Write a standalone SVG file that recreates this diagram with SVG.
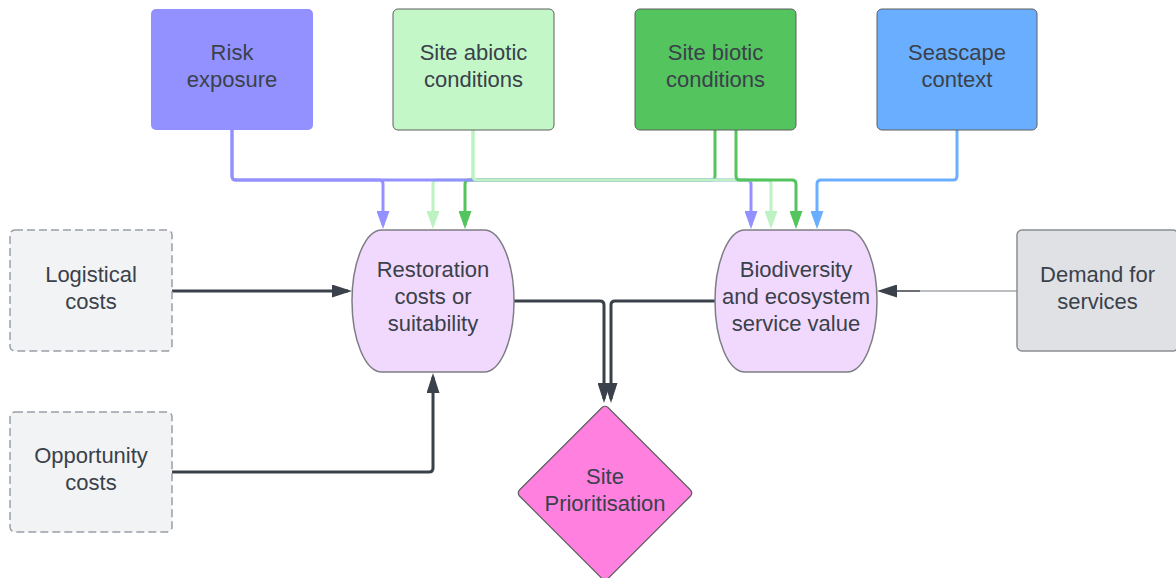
<svg xmlns="http://www.w3.org/2000/svg" width="1176" height="578" viewBox="0 0 1176 578">
<defs>
<style>
text{font-family:"Liberation Sans",Arial,sans-serif;font-size:22px;fill:#3a414a;text-anchor:middle}
.top{stroke:#5e5e5e;stroke-width:1}
.dash{fill:#f2f3f5;stroke:#9a9ea5;stroke-width:1.5;stroke-dasharray:8 4}
.mid{fill:#f1d9fd;stroke:#7d7d85;stroke-width:1.5}
.c{fill:none;stroke-width:3;stroke-linejoin:round}
.pu{stroke:#9391ff}.lg{stroke:#bdf2c2}.gr{stroke:#54c45e}.bl{stroke:#6aaeff}.dk{stroke:#3a414a}
</style>
<marker id="aPu" viewBox="0 0 18 13" refX="14" refY="6.5" markerWidth="18" markerHeight="13" markerUnits="userSpaceOnUse" orient="auto"><path d="M0,0L18,6.5L0,13z" fill="#9391ff"/></marker>
<marker id="aLg" viewBox="0 0 18 13" refX="14" refY="6.5" markerWidth="18" markerHeight="13" markerUnits="userSpaceOnUse" orient="auto"><path d="M0,0L18,6.5L0,13z" fill="#bdf2c2"/></marker>
<marker id="aGr" viewBox="0 0 18 13" refX="14" refY="6.5" markerWidth="18" markerHeight="13" markerUnits="userSpaceOnUse" orient="auto"><path d="M0,0L18,6.5L0,13z" fill="#54c45e"/></marker>
<marker id="aBl" viewBox="0 0 18 13" refX="14" refY="6.5" markerWidth="18" markerHeight="13" markerUnits="userSpaceOnUse" orient="auto"><path d="M0,0L18,6.5L0,13z" fill="#6aaeff"/></marker>
<marker id="aDk" viewBox="0 0 20 13" refX="16" refY="6.5" markerWidth="20" markerHeight="13" markerUnits="userSpaceOnUse" orient="auto"><path d="M0,0L20,6.5L0,13z" fill="#3a414a"/></marker>
</defs>
<rect width="1176" height="578" fill="#ffffff"/>
<g id="connectors">
<path class="c lg" d="M473,130V176Q473,180 469,180H437Q433,180 433,184V225" marker-end="url(#aLg)"/>
<path class="c gr" d="M715,130V176Q715,180 711,180H469Q465,180 465,184V225" marker-end="url(#aGr)"/>
<path class="c pu" d="M232,130V176Q232,180 236,180H379Q383,180 383,184V225" marker-end="url(#aPu)"/>
<path class="c pu" d="M232,130V176Q232,180 236,180H747Q751,180 751,184V225" marker-end="url(#aPu)"/>
<path class="c lg" d="M473,130V176Q473,180 477,180H767Q771,180 771,184V225" marker-end="url(#aLg)"/>
<path class="c gr" d="M736,130V176Q736,180 740,180H792Q796,180 796,184V225" marker-end="url(#aGr)"/>
<path class="c bl" d="M957,130V176Q957,180 953,180H821Q817,180 817,184V225" marker-end="url(#aBl)"/>
<path class="c dk" d="M172,291H348" marker-end="url(#aDk)"/>
<path class="c dk" d="M172,472H429Q433,472 433,468V377" marker-end="url(#aDk)"/>
<path class="c dk" d="M514,301H600Q604,301 604,305V399" marker-end="url(#aDk)"/>
<path class="c dk" d="M716,301H615Q611,301 611,305V399" marker-end="url(#aDk)"/>
<path d="M1017,291H920" fill="none" stroke="#7a7d83" stroke-width="1.2"/>
<path d="M920,291H881" fill="none" stroke="#3a414a" stroke-width="1.6" marker-end="url(#aDk)"/>
</g>
<g id="risk"><rect x="151" y="9" width="162" height="121" rx="5" fill="#9391ff"/><text x="232" y="60">Risk</text><text x="232" y="87">exposure</text></g>
<g id="abiotic"><rect class="top" x="393" y="9" width="161" height="121" rx="5" fill="#c3f7c8"/><text x="473.5" y="60">Site abiotic</text><text x="473.5" y="87">conditions</text></g>
<g id="biotic"><rect class="top" x="635" y="9" width="161" height="121" rx="5" fill="#54c45e"/><text x="715.5" y="60">Site biotic</text><text x="715.5" y="87">conditions</text></g>
<g id="seascape"><rect class="top" x="877" y="9" width="160" height="121" rx="5" fill="#6aaeff"/><text x="957" y="60">Seascape</text><text x="957" y="87">context</text></g>
<g id="logistical"><rect class="dash" x="10" y="230" width="162" height="121" rx="5"/><text x="91" y="282">Logistical</text><text x="91" y="309">costs</text></g>
<g id="opportunity"><rect class="dash" x="10" y="412" width="162" height="120" rx="5"/><text x="91" y="463">Opportunity</text><text x="91" y="490">costs</text></g>
<g id="demand"><rect x="1017" y="230" width="161" height="121" rx="5" fill="#dfe1e5" stroke="#8a8d93" stroke-width="1.5"/><text x="1097.5" y="282">Demand for</text><text x="1097.5" y="309">services</text></g>
<g id="restoration"><rect class="mid" x="352" y="230" width="162" height="142" rx="30" ry="71"/><text x="433" y="277">Restoration</text><text x="433" y="304">costs or</text><text x="433" y="331">suitability</text></g>
<g id="biodiversity"><rect class="mid" x="715" y="230" width="162" height="142" rx="30" ry="71"/><text x="796" y="277">Biodiversity</text><text x="796" y="304">and ecosystem</text><text x="796" y="331">service value</text></g>
<g id="prioritisation"><path d="M602,407.5Q605,405 608,407.5L690.5,490Q693,493 690.5,496L608,578.5Q605,581 602,578.5L519.5,496Q517,493 519.5,490Z" fill="#ff80df" stroke="#5e5e5e" stroke-width="1.2"/><text x="605" y="484">Site</text><text x="605" y="511">Prioritisation</text></g>
</svg>
